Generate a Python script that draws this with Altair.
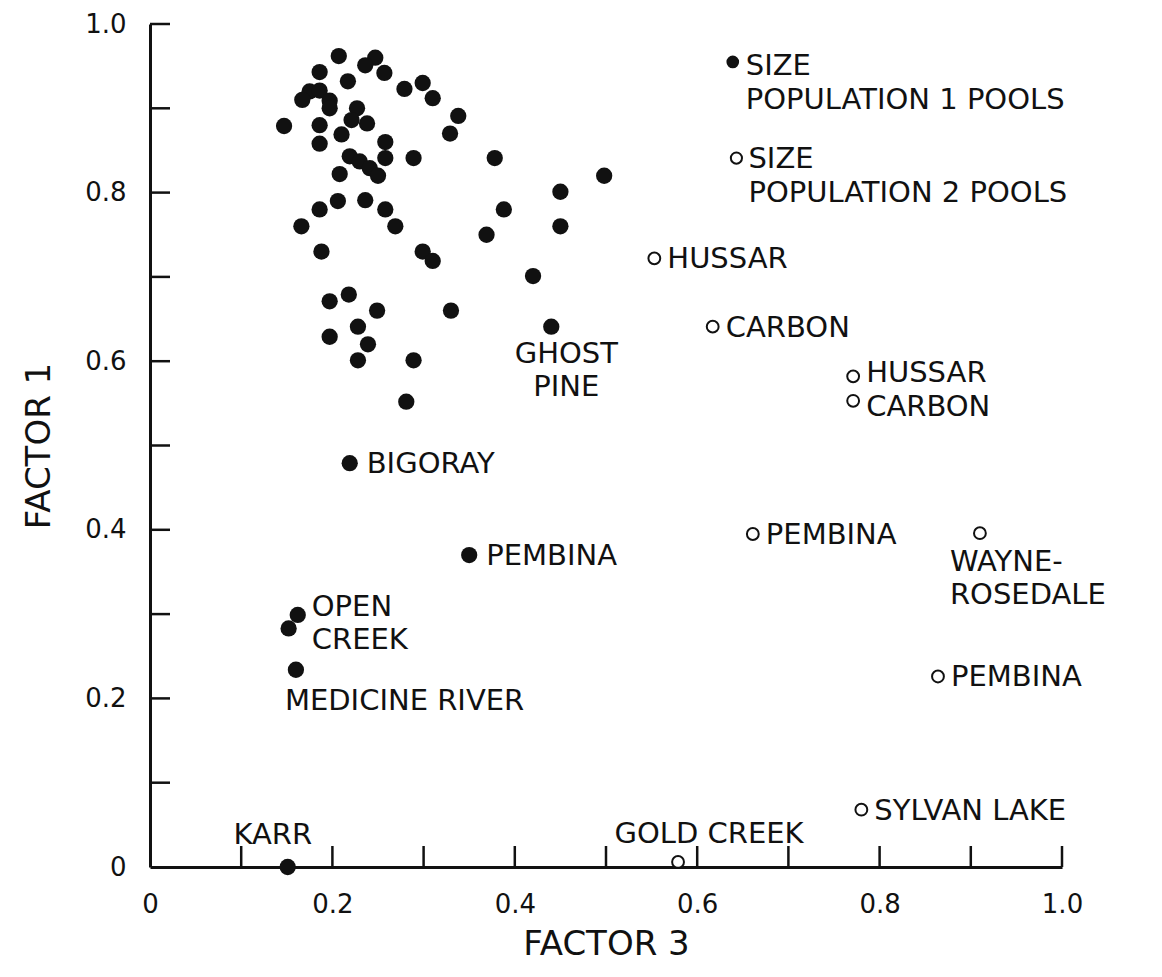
import altair as alt
import pandas as pd

# ---------------- data ----------------
# Population 1 pools (filled circles), unlabeled cluster
cluster_x = [0.207, 0.247, 0.236, 0.257, 0.186, 0.217, 0.279, 0.299, 0.310, 0.175,
             0.186, 0.167, 0.197, 0.197, 0.147, 0.186, 0.227, 0.221, 0.238, 0.210,
             0.186, 0.258, 0.258, 0.219, 0.230, 0.241, 0.250, 0.208, 0.289, 0.378,
             0.338, 0.329, 0.206, 0.236, 0.258, 0.186, 0.388, 0.166, 0.269, 0.188,
             0.299, 0.310, 0.369, 0.498, 0.450, 0.450, 0.420, 0.197, 0.218, 0.249,
             0.330, 0.228, 0.197, 0.239, 0.228, 0.289, 0.281]
cluster_y = [0.962, 0.960, 0.951, 0.942, 0.943, 0.932, 0.923, 0.930, 0.912, 0.920,
             0.921, 0.910, 0.909, 0.900, 0.879, 0.880, 0.900, 0.886, 0.882, 0.869,
             0.858, 0.860, 0.841, 0.843, 0.837, 0.829, 0.820, 0.822, 0.841, 0.841,
             0.891, 0.870, 0.790, 0.791, 0.780, 0.780, 0.780, 0.760, 0.760, 0.730,
             0.730, 0.719, 0.750, 0.820, 0.801, 0.760, 0.701, 0.671, 0.679, 0.660,
             0.660, 0.641, 0.629, 0.620, 0.601, 0.601, 0.552]

# Population 1 pools, named
pop1_names = ["GHOST\nPINE", "BIGORAY", "PEMBINA", "OPEN\nCREEK", "", "MEDICINE RIVER", "KARR"]
pop1_x = [0.440, 0.219, 0.350, 0.162, 0.152, 0.160, 0.151]
pop1_y = [0.641, 0.479, 0.370, 0.299, 0.283, 0.234, 0.000]

# Population 2 pools (open circles)
pop2_names = ["HUSSAR", "CARBON", "HUSSAR", "CARBON", "PEMBINA", "WAYNE-\nROSEDALE",
              "PEMBINA", "SYLVAN LAKE", "GOLD CREEK"]
pop2_x = [0.553, 0.617, 0.771, 0.771, 0.661, 0.910, 0.864, 0.780, 0.579]
pop2_y = [0.722, 0.641, 0.582, 0.553, 0.395, 0.396, 0.226, 0.068, 0.006]

# Key entries drawn inside the plot
key_names = ["SIZE\nPOPULATION 1 POOLS", "SIZE\nPOPULATION 2 POOLS"]
key_x = [0.639, 0.643]
key_y = [0.955, 0.841]

label_values = [0, 0.2, 0.4, 0.6, 0.8, 1.0]
tick_values = [0.1, 0.2, 0.3, 0.4, 0.5, 0.6, 0.7, 0.8, 0.9, 1.0]

# ---------------- tables ----------------
df1 = pd.DataFrame({
    "x": cluster_x + pop1_x,
    "y": cluster_y + pop1_y,
    "name": [""] * len(cluster_x) + pop1_names,
})
df2 = pd.DataFrame({"x": pop2_x, "y": pop2_y, "name": pop2_names})
dfk1 = pd.DataFrame({"x": key_x[:1], "y": key_y[:1], "name": key_names[:1]})
dfk2 = pd.DataFrame({"x": key_x[1:], "y": key_y[1:], "name": key_names[1:]})
dftx = pd.DataFrame({"x": tick_values})
dfty = pd.DataFrame({"y": tick_values})

W, H = 912, 843
INK = "#111111"
FONT = "DejaVu Sans"
FS = 29
LABEL_EXPR = "datum.value == 0 ? '0' : format(datum.value, '.1f')"

X = alt.X("x:Q",
          scale=alt.Scale(domain=[0, 1], nice=False, zero=False),
          axis=alt.Axis(values=label_values, labelExpr=LABEL_EXPR, title="FACTOR 3",
                        labelPadding=24, titlePadding=10, labelFlush=False))
Y = alt.Y("y:Q",
          scale=alt.Scale(domain=[0, 1], nice=False, zero=False),
          axis=alt.Axis(values=label_values, labelExpr=LABEL_EXPR, title="FACTOR 1",
                        labelPadding=24, titlePadding=28, labelFlush=False))

# inward ticks
xticks = alt.Chart(dftx).mark_rule(color=INK, strokeWidth=2.5).encode(
    x=X, y=alt.value(H), y2=alt.value(H - 21))
yticks = alt.Chart(dfty).mark_rule(color=INK, strokeWidth=2.5).encode(
    y=Y, x=alt.value(0), x2=alt.value(20))

pts1 = alt.Chart(df1).mark_point(shape="circle", filled=True, size=265,
                                 color=INK, opacity=1).encode(x=X, y=Y)
pts2 = alt.Chart(df2).mark_point(shape="circle", fill="white", stroke=INK,
                                 strokeWidth=2, size=140, opacity=1,
                                 fillOpacity=1).encode(x=X, y=Y)
key1 = alt.Chart(dfk1).mark_point(shape="circle", filled=True, size=160,
                                  color=INK, opacity=1).encode(x=X, y=Y)
key2 = alt.Chart(dfk2).mark_point(shape="circle", fill="white", stroke=INK,
                                  strokeWidth=2, size=125, opacity=1,
                                  fillOpacity=1).encode(x=X, y=Y)


def labels(df, names, extra=None, **kw):
    base = dict(font=FONT, fontSize=FS, color=INK, baseline="alphabetic",
                lineBreak="\n", align="left")
    base.update(kw)
    ch = alt.Chart(df).transform_filter(
        alt.FieldOneOfPredicate(field="name", oneOf=names))
    if extra is not None:
        ch = ch.transform_filter(extra)
    return ch.mark_text(**base).encode(x=X, y=Y, text="name:N")


layers = [
    xticks, yticks, pts1, pts2, key1, key2,
    labels(df2, ["PEMBINA", "SYLVAN LAKE"], dx=13, dy=10),
    labels(df2, ["HUSSAR", "CARBON"], "datum.x < 0.7", dx=13, dy=10),
    labels(df2, ["HUSSAR"], "datum.x > 0.7", dx=13, dy=6),
    labels(df2, ["CARBON"], "datum.x > 0.7", dx=13, dy=15),
    labels(df1, ["BIGORAY", "PEMBINA"], dx=17, dy=10),
    labels(df1, ["GHOST\nPINE"], align="center", dx=15, dy=36, lineHeight=33),
    labels(df1, ["OPEN\nCREEK"], dx=14, dy=1, lineHeight=33),
    labels(df1, ["MEDICINE RIVER"], dx=-11, dy=40),
    labels(df1, ["KARR"], align="center", dx=-15, dy=-23),
    labels(df2, ["GOLD CREEK"], align="center", dx=31, dy=-19),
    labels(df2, ["WAYNE-\nROSEDALE"], dx=-30, dy=38, lineHeight=33),
    labels(dfk1, key_names[:1], dx=13, dy=13, lineHeight=34),
    labels(dfk2, key_names[1:], dx=12, dy=10, lineHeight=34),
]

chart = alt.layer(*layers).properties(
    width=W, height=H,
    padding={"left": 142, "top": 16, "right": 92, "bottom": 102},
    autosize=alt.AutoSizeParams(type="none"),
).configure_view(stroke=None).configure_axis(
    grid=False, ticks=False, tickSize=0,
    domainColor=INK, domainWidth=3,
    labelFont=FONT, labelFontSize=26, labelColor=INK,
    titleFont=FONT, titleFontSize=34, titleFontWeight="normal", titleColor=INK,
)

chart.save("out.html", embed_options={"renderer": "svg", "actions": False})
